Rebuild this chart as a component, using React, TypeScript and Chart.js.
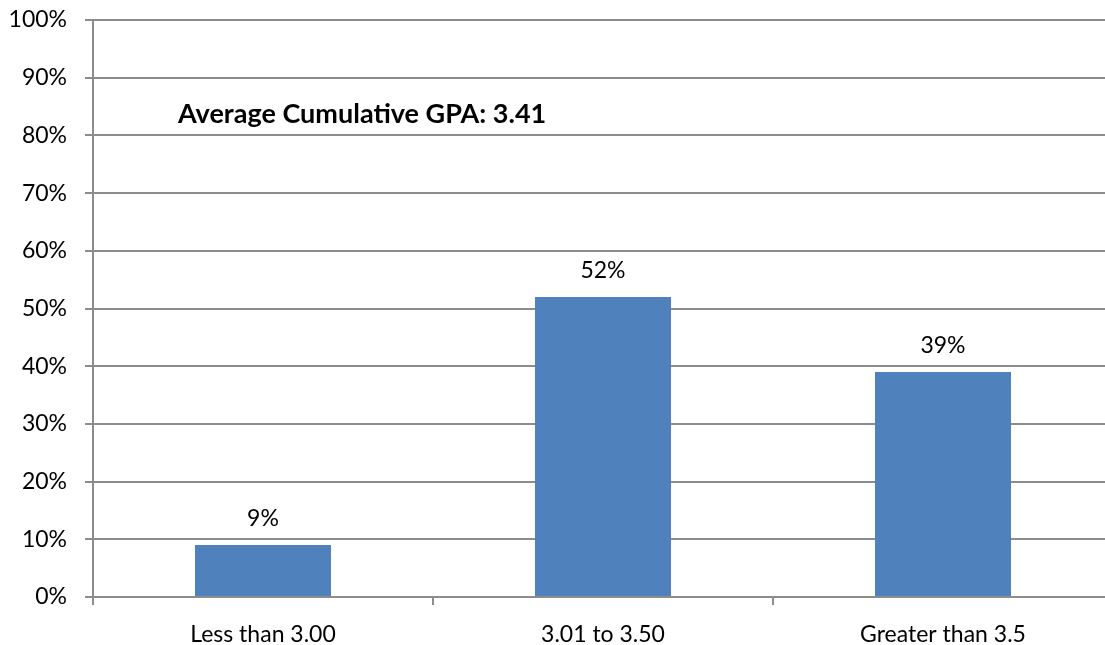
import React, { useEffect, useRef } from "react";
import { Chart, registerables } from "chart.js";

Chart.register(...registerables);

const categories = ["Less than 3.00", "3.01 to 3.50", "Greater than 3.5"];
const percentValues = [9, 52, 39];
const yTicks = [0, 10, 20, 30, 40, 50, 60, 70, 80, 90, 100];
const annotationText = "Average Cumulative GPA: 3.41";
const annotationValue = 83.7;

const FONT = "Lato, 'Open Sans', sans-serif";
const GRID = "#8c8c8c";

const labelPlugin = {
  id: "barLabels",
  afterDatasetsDraw(chart: any) {
    const ctx = chart.ctx;
    const meta = chart.getDatasetMeta(0);
    ctx.save();
    ctx.fillStyle = "#000";
    ctx.font = `23px ${FONT}`;
    ctx.textAlign = "center";
    ctx.textBaseline = "middle";
    meta.data.forEach((bar: any, i: number) => {
      ctx.fillText(percentValues[i] + "%", bar.x, bar.y - 26);
    });
    const ys = chart.scales.y;
    ctx.font = `bold 27px ${FONT}`;
    ctx.textAlign = "left";
    ctx.fillText(annotationText, chart.chartArea.left + 85, ys.getPixelForValue(annotationValue));
    ctx.restore();
  },
};

export default function App() {
  const ref = useRef<HTMLCanvasElement | null>(null);
  useEffect(() => {
    if (!ref.current) return;
    const chart = new Chart(ref.current, {
      type: "bar",
      data: {
        labels: categories,
        datasets: [
          {
            data: percentValues,
            backgroundColor: "#4F81BD",
            barPercentage: 0.4,
            categoryPercentage: 1,
          },
        ],
      },
      options: {
        animation: false,
        responsive: false,
        devicePixelRatio: 1,
        layout: { padding: { top: 20, left: 0, right: 0, bottom: 0 } },
        plugins: { legend: { display: false }, tooltip: { enabled: false } },
        scales: {
          x: {
            offset: true,
            grid: {
              offset: true,
              drawOnChartArea: false,
              drawTicks: true,
              tickLength: 8,
              color: GRID,
              lineWidth: 2,
            },
            border: { color: GRID, width: 2 },
            ticks: { color: "#000", font: { family: FONT, size: 23 }, padding: 16 },
            afterFit: (s: any) => {
              s.height = 48;
              s.paddingLeft = 0;
              s.paddingRight = 0;
            },
          },
          y: {
            min: 0,
            max: 100,
            afterBuildTicks: (s: any) => {
              s.ticks = yTicks.map((v) => ({ value: v }));
            },
            grid: { color: GRID, lineWidth: 2, tickLength: 8 },
            border: { color: GRID, width: 2 },
            ticks: {
              color: "#000",
              font: { family: FONT, size: 23 },
              padding: 18,
              callback: (v: any) => v + "%",
            },
            afterFit: (s: any) => {
              s.width = 93;
              s.paddingTop = 0;
              s.paddingBottom = 0;
            },
          },
        },
      },
      plugins: [labelPlugin],
    });
    return () => chart.destroy();
  }, []);
  return (
    <div
      style={{
        position: "fixed",
        left: 0,
        top: 0,
        width: 1105,
        height: 645,
        overflow: "hidden",
        background: "#fff",
      }}
    >
      <canvas ref={ref} width={1113} height={645} style={{ display: "block" }} />
    </div>
  );
}
